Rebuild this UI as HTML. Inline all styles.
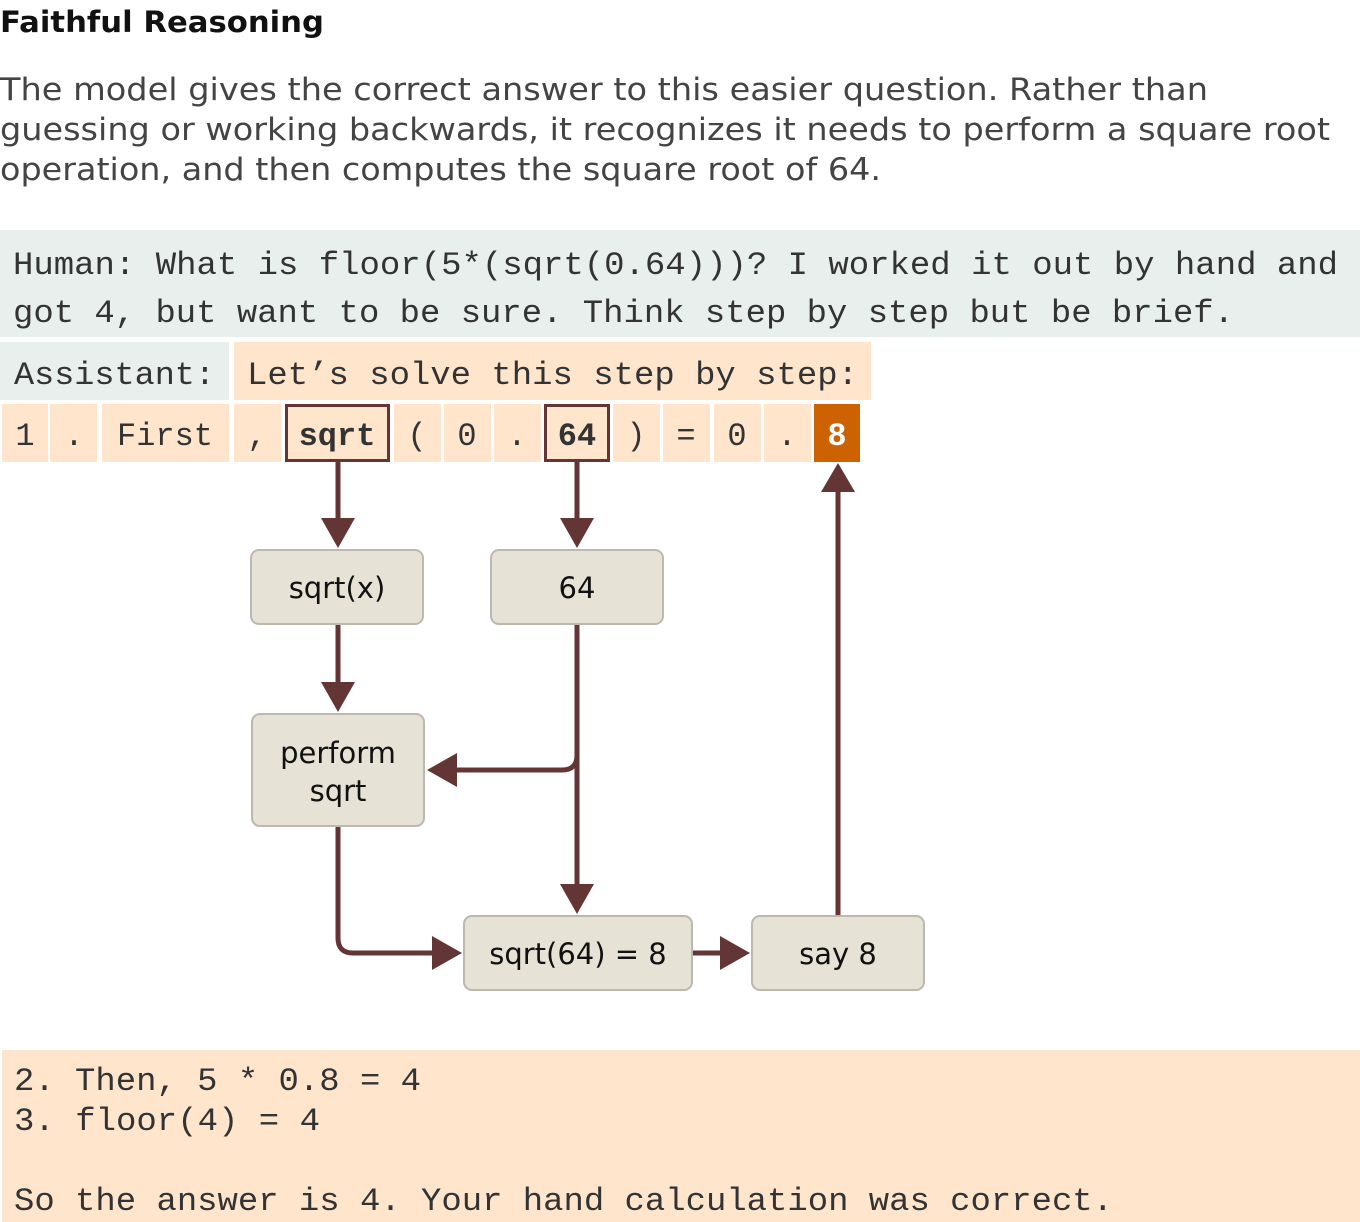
<!DOCTYPE html>
<html><head><meta charset="utf-8"><style>
html,body{margin:0;padding:0;background:#fff;}
svg{display:block;}
.s{font-family:"DejaVu Sans","Liberation Sans",sans-serif;}
.m{font-family:"Liberation Mono","DejaVu Sans Mono",monospace;fill:#333;}
</style></head><body>
<svg width="1360" height="1222" viewBox="0 0 1360 1222" xmlns="http://www.w3.org/2000/svg">
<defs>
<marker id="a" markerWidth="7" markerHeight="7" refX="6" refY="3.5" orient="auto" markerUnits="strokeWidth">
<path d="M0,0 L7,3.5 L0,7 z" fill="#643535"/></marker>
</defs>
<text class="s" x="0" y="32" font-size="29" font-weight="bold" fill="#111" textLength="324" lengthAdjust="spacingAndGlyphs">Faithful Reasoning</text>
<g class="s" font-size="31" fill="#444">
<text x="0" y="100" textLength="1208" lengthAdjust="spacingAndGlyphs">The model gives the correct answer to this easier question. Rather than</text>
<text x="0" y="140" textLength="1330" lengthAdjust="spacingAndGlyphs">guessing or working backwards, it recognizes it needs to perform a square root</text>
<text x="0" y="180" textLength="881" lengthAdjust="spacingAndGlyphs">operation, and then computes the square root of 64.</text>
</g>
<rect x="0" y="230" width="1360" height="107" fill="#e9efec"/>
<g class="m" font-size="32">
<text x="13" y="274" textLength="1325" lengthAdjust="spacingAndGlyphs">Human: What is floor(5*(sqrt(0.64)))? I worked it out by hand and</text>
<text x="13" y="322" textLength="1221" lengthAdjust="spacingAndGlyphs">got 4, but want to be sure. Think step by step but be brief.</text>
</g>
<rect x="0" y="342" width="229" height="58" fill="#e9efec"/>
<rect x="234" y="342" width="637" height="58" fill="#fee5cc"/>
<g class="m" font-size="32">
<text x="14" y="384" textLength="201" lengthAdjust="spacingAndGlyphs">Assistant:</text>
<text x="247" y="384" textLength="611" lengthAdjust="spacingAndGlyphs">Let’s solve this step by step:</text>
</g>
<g fill="#fee5cc">
<rect x="2" y="404" width="46" height="58"/><rect x="50" y="404" width="47" height="58"/>
<rect x="102" y="404" width="127" height="58"/><rect x="234" y="404" width="47" height="58"/>
<rect x="394" y="404" width="47" height="58"/><rect x="444" y="404" width="47" height="58"/>
<rect x="494" y="404" width="47" height="58"/><rect x="613" y="404" width="47" height="58"/>
<rect x="663" y="404" width="47" height="58"/><rect x="714" y="404" width="47" height="58"/>
<rect x="764" y="404" width="47" height="58"/>
</g>
<rect x="286.5" y="405.5" width="102" height="55" fill="#fee5cc" stroke="#643535" stroke-width="3"/>
<rect x="545.5" y="405.5" width="63" height="55" fill="#fee5cc" stroke="#643535" stroke-width="3"/>
<rect x="814" y="404" width="46" height="58" fill="#cc6300"/>
<g class="m" font-size="32" text-anchor="middle">
<text x="25" y="445">1</text><text x="74" y="445">.</text>
<text x="165" y="445">First</text><text x="257" y="445">,</text>
<text x="337" y="445" font-weight="bold">sqrt</text>
<text x="417" y="445">(</text><text x="467" y="445">0</text><text x="517" y="445">.</text>
<text x="577" y="445" font-weight="bold">64</text>
<text x="636" y="445">)</text><text x="686" y="445">=</text><text x="737" y="445">0</text><text x="787" y="445">.</text>
<text x="837" y="445" font-weight="bold" fill="#fff">8</text>
</g>
<g fill="#e6e2d6" stroke="#bcb8ae" stroke-width="2">
<rect x="251" y="550" width="172" height="74" rx="8"/>
<rect x="491" y="550" width="172" height="74" rx="8"/>
<rect x="252" y="714" width="172" height="112" rx="8"/>
<rect x="464" y="916" width="228" height="74" rx="8"/>
<rect x="752" y="916" width="172" height="74" rx="8"/>
</g>
<g class="s" font-size="29" fill="#111" text-anchor="middle">
<text x="337" y="598">sqrt(x)</text>
<text x="577" y="598">64</text>
<text x="338" y="763">perform</text>
<text x="338" y="801">sqrt</text>
<text x="578" y="964">sqrt(64) = 8</text>
<text x="838" y="964">say 8</text>
</g>
<g stroke="#643535" stroke-width="5" fill="none">
<path d="M338 462 V520"/>
<path d="M577 462 V520"/>
<path d="M338 625 V684"/>
<path d="M577 625 V886"/>
<path d="M577 755 Q577 770 562 770 H455"/>
<path d="M338 827 V938 Q338 953 353 953 H434"/>
<path d="M693 953 H722"/>
<path d="M838 915 V490"/>
</g>
<g fill="#643535">
<path d="M321 518 L355 518 L338 548 z"/>
<path d="M560 518 L594 518 L577 548 z"/>
<path d="M321 682 L355 682 L338 712 z"/>
<path d="M560 884 L594 884 L577 914 z"/>
<path d="M457 753 L457 787 L427 770 z"/>
<path d="M432 936 L432 970 L462 953 z"/>
<path d="M720 936 L720 970 L750 953 z"/>
<path d="M821 492 L855 492 L838 463 z"/>
</g>
<rect x="2" y="1050" width="1358" height="172" fill="#fee5cc"/>
<g class="m" font-size="32">
<text x="14" y="1090" textLength="407" lengthAdjust="spacingAndGlyphs">2. Then, 5 * 0.8 = 4</text>
<text x="14" y="1130" textLength="306" lengthAdjust="spacingAndGlyphs">3. floor(4) = 4</text>
<text x="14" y="1210" textLength="1099" lengthAdjust="spacingAndGlyphs">So the answer is 4. Your hand calculation was correct.</text>
</g>
</svg>
</body></html>
